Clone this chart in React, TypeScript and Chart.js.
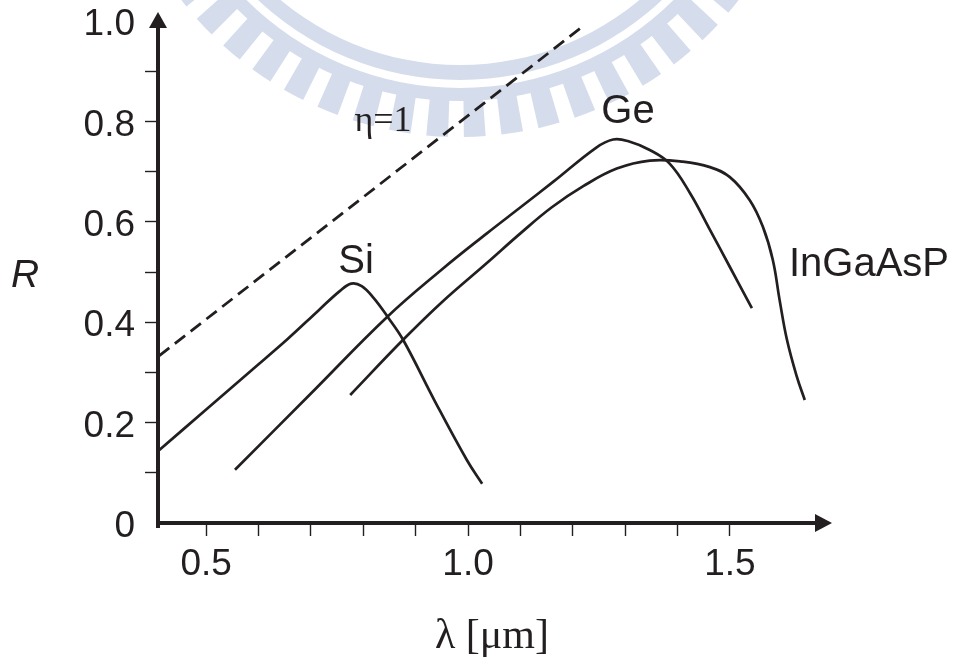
import React, { useEffect, useRef } from "react";
import { Chart, registerables } from "chart.js";

Chart.register(...registerables);

const INK = "#231f20";
const WATERMARK = "#d5dcec";
const SANS = '"Liberation Sans", Arial, Helvetica, sans-serif';
const SERIF = '"Liberation Serif", "Times New Roman", serif';

// ---- data (λ in µm, R in A/W) ----
const siLambda = [0.41, 0.5, 0.584, 0.655, 0.715, 0.755, 0.777, 0.797, 0.82, 0.847, 0.876, 0.937, 0.998, 1.027];
const siR = [0.145, 0.226, 0.302, 0.366, 0.424, 0.462, 0.477, 0.472, 0.448, 0.41, 0.365, 0.242, 0.125, 0.078];

const geLambda = [0.555, 0.7, 0.845, 0.95, 1.036, 1.099, 1.163, 1.245, 1.277, 1.305, 1.347, 1.385, 1.424, 1.462, 1.5, 1.542];
const geR = [0.106, 0.258, 0.41, 0.505, 0.577, 0.628, 0.68, 0.748, 0.764, 0.761, 0.743, 0.716, 0.657, 0.584, 0.51, 0.428];

const ingaLambda = [0.775, 0.876, 0.95, 1.036, 1.1, 1.16, 1.22, 1.284, 1.347, 1.41, 1.462, 1.5, 1.538, 1.563, 1.582, 1.595, 1.609, 1.628, 1.643];
const ingaR = [0.255, 0.365, 0.44, 0.518, 0.577, 0.629, 0.671, 0.706, 0.722, 0.72, 0.709, 0.689, 0.643, 0.59, 0.524, 0.444, 0.365, 0.291, 0.245];

const etaLambda = [0.41, 1.22];
const etaR = [0.333, 0.99];

const xTickValues = [0.5, 0.6, 0.7, 0.8, 0.9, 1.0, 1.1, 1.2, 1.3, 1.4, 1.5];
const xLabelValues = [0.5, 1.0, 1.5];
const xLabelText = ["0.5", "1.0", "1.5"];

const yTickValues = [0, 0.1, 0.2, 0.3, 0.4, 0.5, 0.6, 0.7, 0.8, 0.9, 1.0];
const yLabelValues = [0, 0.2, 0.4, 0.6, 0.8, 1.0];
const yLabelText = ["0", "0.2", "0.4", "0.6", "0.8", "1.0"];

const X_MIN = 0.408;
const X_MAX = 1.695;
const Y_MIN = 0;
const Y_MAX = 1.018;

const pts = (xs: number[], ys: number[]) => xs.map((x, i) => ({ x, y: ys[i] }));

const findLabel = (vals: number[], texts: string[], v: number) => {
  const i = vals.findIndex((a) => Math.abs(a - v) < 1e-6);
  return i >= 0 ? texts[i] : "";
};

const watermarkPlugin = {
  id: "watermark",
  beforeDraw(chart: any) {
    const ctx = chart.ctx;
    const cx = 460;
    const cy = -215;
    ctx.save();
    ctx.fillStyle = WATERMARK;
    ctx.beginPath();
    ctx.arc(cx, cy, 295, 0, Math.PI * 2);
    ctx.arc(cx, cy, 280, 0, Math.PI * 2, true);
    ctx.fill();
    ctx.beginPath();
    ctx.arc(cx, cy, 316, 0, Math.PI * 2);
    ctx.arc(cx, cy, 303, 0, Math.PI * 2, true);
    ctx.fill();
    const period = 0.107;
    const half = 0.031;
    const base = Math.PI / 2 - 0.042;
    for (let k = -16; k <= 16; k++) {
      const a = base + k * period;
      ctx.beginPath();
      ctx.arc(cx, cy, 352, a - half, a + half);
      ctx.arc(cx, cy, 314, a + half, a - half, true);
      ctx.closePath();
      ctx.fill();
    }
    ctx.restore();
  },
};

const axesPlugin = {
  id: "arrowAxes",
  afterDraw(chart: any) {
    const ctx = chart.ctx;
    const a = chart.chartArea;
    ctx.save();
    ctx.strokeStyle = INK;
    ctx.fillStyle = INK;
    ctx.lineWidth = 4;
    ctx.lineCap = "butt";
    ctx.beginPath();
    ctx.moveTo(a.left, a.bottom + 5);
    ctx.lineTo(a.left, a.top + 12);
    ctx.stroke();
    ctx.beginPath();
    ctx.moveTo(a.left - 2, a.bottom);
    ctx.lineTo(a.right - 12, a.bottom);
    ctx.stroke();
    ctx.beginPath();
    ctx.moveTo(a.left, a.top);
    ctx.lineTo(a.left - 9, a.top + 16);
    ctx.lineTo(a.left + 9, a.top + 16);
    ctx.closePath();
    ctx.fill();
    ctx.beginPath();
    ctx.moveTo(a.right, a.bottom);
    ctx.lineTo(a.right - 17, a.bottom - 9);
    ctx.lineTo(a.right - 17, a.bottom + 9);
    ctx.closePath();
    ctx.fill();
    ctx.restore();
  },
};

const textPlugin = {
  id: "annotText",
  afterDatasetsDraw(chart: any) {
    const ctx = chart.ctx;
    ctx.save();
    ctx.fillStyle = INK;
    ctx.textAlign = "center";
    ctx.textBaseline = "alphabetic";
    ctx.font = `40px ${SANS}`;
    ctx.fillText("Si", 356, 273);
    ctx.fillText("Ge", 628, 123);
    ctx.fillText("InGaAsP", 869, 276);
    ctx.font = `36px ${SERIF}`;
    ctx.fillText("\u03b7=1", 383, 131);
    ctx.font = `italic 39px ${SANS}`;
    ctx.fillText("R", 25, 287);
    ctx.font = `42px ${SERIF}`;
    ctx.fillText("\u03bb [\u03bcm]", 492, 648);
    ctx.restore();
  },
};

export default function App() {
  const ref = useRef<HTMLCanvasElement | null>(null);

  useEffect(() => {
    if (!ref.current) return;
    const lineStyle = {
      borderColor: INK,
      borderWidth: 2.7,
      pointRadius: 0,
      fill: false,
      tension: 0.4,
    };
    const chart = new Chart(ref.current, {
      type: "line",
      data: {
        datasets: [
          { label: "η=1", data: pts(etaLambda, etaR), ...lineStyle, tension: 0, borderDash: [13, 7], borderWidth: 2.8 },
          { label: "Si", data: pts(siLambda, siR), ...lineStyle },
          { label: "Ge", data: pts(geLambda, geR), ...lineStyle },
          { label: "InGaAsP", data: pts(ingaLambda, ingaR), ...lineStyle },
        ],
      },
      options: {
        animation: false,
        responsive: true,
        maintainAspectRatio: false,
        layout: { padding: { left: 0, top: 12, right: 122, bottom: 0 } },
        plugins: {
          legend: { display: false },
          tooltip: { enabled: false },
          title: { display: false },
        },
        scales: {
          x: {
            type: "linear",
            min: X_MIN,
            max: X_MAX,
            afterBuildTicks: (axis: any) => {
              axis.ticks = xTickValues.map((v) => ({ value: v }));
            },
            afterFit: (s: any) => {
              s.height = 657 - 523;
              s.paddingLeft = 0;
              s.paddingRight = 0;
              s.paddingTop = 0;
              s.paddingBottom = 0;
            },
            ticks: {
              autoSkip: false,
              maxRotation: 0,
              padding: 7,
              color: INK,
              font: { family: SANS, size: 37 },
              callback: (v: any) => findLabel(xLabelValues, xLabelText, Number(v)),
            },
            grid: {
              drawOnChartArea: false,
              drawTicks: true,
              tickLength: 13,
              tickWidth: 1.4,
              tickColor: INK,
            },
            border: { display: false },
          },
          y: {
            type: "linear",
            min: Y_MIN,
            max: Y_MAX,
            afterBuildTicks: (axis: any) => {
              axis.ticks = yTickValues.map((v) => ({ value: v }));
            },
            afterFit: (s: any) => {
              s.width = 158;
              s.paddingLeft = 0;
              s.paddingRight = 0;
              s.paddingTop = 0;
              s.paddingBottom = 0;
            },
            ticks: {
              autoSkip: false,
              padding: 10,
              labelOffset: 4,
              color: INK,
              font: { family: SANS, size: 37 },
              callback: (v: any) => findLabel(yLabelValues, yLabelText, Number(v)),
            },
            grid: {
              drawOnChartArea: false,
              drawTicks: true,
              tickLength: 13,
              tickWidth: 1.4,
              tickColor: (ctx: any) =>
                ctx.tick && (ctx.tick.value <= 0.001 || ctx.tick.value >= 0.999) ? "rgba(0,0,0,0)" : INK,
            },
            border: { display: false },
          },
        },
      },
      plugins: [watermarkPlugin, axesPlugin, textPlugin],
    });
    return () => chart.destroy();
  }, []);

  return (
    <div style={{ position: "fixed", left: 0, top: 0, width: 954, height: 657, background: "#fff" }}>
      <canvas ref={ref} />
    </div>
  );
}
